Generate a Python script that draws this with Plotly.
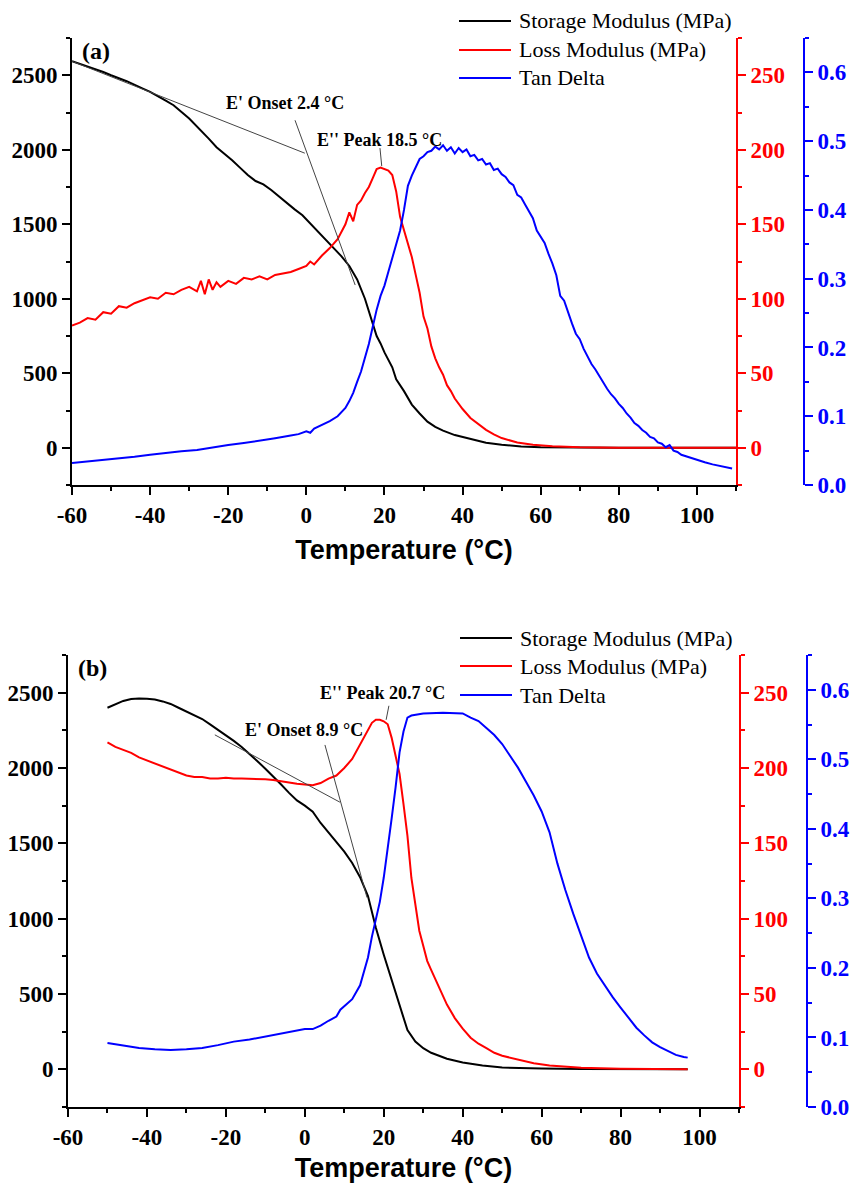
import plotly.graph_objects as go

# ---------------- Panel (a) data ----------------
a_storage_T = [-60, -56, -52, -50, -46, -42, -40, -36, -34, -30, -27, -25, -23, -21, -19, -17, -15, -13, -11, -9,
               -7, -5, -3, -1, 1, 3, 5, 7, 9, 11, 13, 15, 16, 17, 18, 19, 20, 22, 23, 25, 27, 29, 31, 33, 35, 38,
               42, 46, 50, 55, 60, 70, 80, 110]
a_storage_V = [2594, 2560, 2522, 2500, 2460, 2412, 2388, 2330, 2299, 2210, 2131, 2075, 2017, 1975, 1930, 1880, 1830,
               1790, 1768, 1730, 1685, 1640, 1600, 1560, 1505, 1455, 1400, 1345, 1285, 1220, 1130, 1000, 920, 840,
               750, 700, 640, 540, 460, 380, 290, 230, 175, 140, 115, 85, 58, 34, 20, 8, 4, 1, 0, 0]

a_loss_T = [-60, -58, -56, -54, -52, -50, -48, -46, -44, -42, -40, -38, -36, -34, -32, -30, -28, -27, -26, -25, -24,
            -23, -22, -20, -18, -16, -14, -12, -10, -8, -6, -4, -2, 0, 1, 2, 4, 6, 8, 10, 11, 12, 13, 14, 15, 16, 17,
            18, 19, 20, 21, 22, 23, 24, 25, 26, 27, 28, 29, 30, 31, 32, 33, 34, 35, 36, 37, 38, 40, 42, 44, 46, 48,
            50, 54, 58, 63, 70, 80, 110]
a_loss_V = [82, 84, 87, 86, 91, 90, 95, 94, 97, 99, 101, 100, 104, 103, 106, 108, 105, 112, 103, 113, 106, 111, 108,
            112, 110, 114, 113, 115, 113, 116, 117, 118, 120, 122, 125, 123, 129, 134, 140, 150, 158, 152, 163, 166,
            171, 175, 181, 187, 188, 187, 186, 183, 172, 155, 146, 136, 128, 116, 104, 88, 80, 68, 60, 54, 49, 42, 38,
            33, 26, 20, 16, 12, 9, 6.5, 3.5, 2, 1, 0.3, 0, 0]

a_tan_T = [-60, -56, -52, -48, -44, -40, -36, -32, -28, -24, -20, -16, -12, -8, -4, -2, 0, 1, 2, 4, 6, 8, 10, 11, 12,
           13, 14, 15, 16, 17, 18, 19, 20, 21, 22, 23, 24, 25, 26, 27, 28, 29, 30, 31, 32, 33, 34, 35, 36, 37, 38, 39,
           40, 41, 42, 43, 44, 45, 46, 47, 48, 49, 50, 51, 52, 53, 54, 55, 56, 57, 58, 59, 60, 61, 62, 63, 64, 65, 66,
           67, 68, 69, 70, 71, 72, 73, 74, 75, 76, 77, 78, 79, 80, 81, 82, 83, 84, 85, 86, 87, 88, 89, 90, 91, 92, 93,
           94, 95, 96, 97, 98, 100, 102, 104, 106, 108, 109]
a_tan_V = [0.032, 0.034, 0.037, 0.039, 0.041, 0.044, 0.047, 0.049, 0.051, 0.055, 0.058, 0.061, 0.064, 0.068, 0.072,
           0.074, 0.078, 0.076, 0.082, 0.087, 0.093, 0.100, 0.112, 0.122, 0.134, 0.150, 0.165, 0.185, 0.205, 0.230,
           0.255, 0.275, 0.290, 0.310, 0.330, 0.350, 0.370, 0.400, 0.435, 0.450, 0.462, 0.474, 0.478, 0.484, 0.486,
           0.492, 0.488, 0.494, 0.486, 0.491, 0.482, 0.490, 0.484, 0.488, 0.478, 0.480, 0.472, 0.474, 0.466, 0.468,
           0.458, 0.460, 0.452, 0.448, 0.440, 0.436, 0.422, 0.418, 0.408, 0.398, 0.388, 0.370, 0.360, 0.352, 0.336,
           0.322, 0.305, 0.275, 0.268, 0.250, 0.235, 0.220, 0.212, 0.198, 0.186, 0.176, 0.168, 0.158, 0.150, 0.140,
           0.132, 0.126, 0.118, 0.112, 0.104, 0.098, 0.090, 0.086, 0.080, 0.076, 0.070, 0.068, 0.062, 0.060, 0.055,
           0.058, 0.050, 0.048, 0.044, 0.042, 0.040, 0.036, 0.033, 0.030, 0.028, 0.025, 0.024]

# ---------------- Panel (b) data ----------------
b_storage_T = [-50, -48, -46, -44, -42, -40, -38, -36, -34, -32, -30, -28, -26, -24, -22, -20, -18, -16, -14, -12,
               -10, -8, -6, -4, -2, 0, 2, 4, 6, 8, 10, 12, 14, 16, 18, 20, 22, 24, 26, 28, 30, 32, 34, 36, 40, 45,
               50, 55, 60, 70, 80, 90, 97]
b_storage_V = [2400, 2425, 2445, 2458, 2462, 2460, 2455, 2442, 2425, 2400, 2375, 2350, 2325, 2290, 2255, 2220, 2180,
               2140, 2095, 2045, 1995, 1945, 1890, 1835, 1785, 1750, 1710, 1635, 1570, 1510, 1445, 1370, 1275, 1150,
               940, 760, 590, 420, 260, 185, 140, 110, 88, 70, 45, 25, 12, 7, 5, 3, 2, 1, 0]

b_loss_T = [-50, -48, -46, -44, -42, -40, -38, -36, -34, -32, -30, -28, -26, -24, -22, -20, -18, -16, -14, -12, -10,
            -8, -6, -4, -2, 0, 2, 4, 6, 8, 10, 12, 14, 16, 17, 18, 19, 20, 21, 22, 23, 24, 25, 26, 27, 28, 29, 30, 31,
            32, 34, 36, 38, 40, 42, 44, 46, 48, 50, 54, 58, 62, 66, 70, 80, 90, 97]
b_loss_V = [217, 214, 212, 210, 207, 205, 203, 201, 199, 197, 195, 194, 194, 193, 193, 193.5, 193, 193, 193, 192.5,
            192.5, 192, 191, 190, 189.5, 189, 188.5, 190, 193, 195, 200, 206, 216, 226, 230, 232, 232, 231, 229, 220,
            208, 196, 176, 155, 127, 108, 92, 82, 72, 66, 54, 43, 34, 27, 21, 17, 14, 11, 9, 6.5, 4, 2.5, 1.5, 1,
            0.4, 0.2, 0.1]

b_tan_T = [-50, -46, -42, -38, -34, -30, -26, -22, -18, -14, -10, -6, -2, 0, 2, 4, 6, 8, 9, 10, 12, 14, 15, 16, 17,
           18, 19, 20, 21, 22, 23, 24, 25, 26, 27, 30, 35, 40, 42, 44, 46, 48, 50, 52, 54, 56, 58, 60, 62, 64, 66, 68,
           70, 72, 74, 76, 78, 80, 82, 84, 86, 88, 90, 92, 94, 96, 97]
b_tan_V = [0.092, 0.088, 0.085, 0.083, 0.082, 0.083, 0.085, 0.089, 0.094, 0.097, 0.101, 0.105, 0.110, 0.112, 0.112,
           0.117, 0.124, 0.130, 0.140, 0.145, 0.155, 0.175, 0.195, 0.215, 0.245, 0.270, 0.295, 0.330, 0.370, 0.415,
           0.460, 0.510, 0.540, 0.560, 0.563, 0.566, 0.567, 0.566, 0.560, 0.555, 0.545, 0.535, 0.522, 0.505, 0.488,
           0.468, 0.448, 0.425, 0.395, 0.350, 0.312, 0.278, 0.245, 0.215, 0.192, 0.174, 0.158, 0.143, 0.128, 0.114,
           0.103, 0.093, 0.086, 0.080, 0.075, 0.072, 0.071]

series_names = ["Storage Modulus (MPa)", "Loss Modulus (MPa)", "Tan Delta"]
series_colors = ["#000000", "#ff0000", "#0000ff"]

x_ticks = [-60, -40, -20, 0, 20, 40, 60, 80, 100]
x_ticktext = ["-60", "-40", "-20", "0", "20", "40", "60", "80", "100"]

SERIF = "Liberation Serif"
SANS = "Liberation Sans"
W, H = 854, 1183

fig = go.Figure()

panels = [
    ("x", ["y", "y2", "y3"], [(a_storage_T, a_storage_V), (a_loss_T, a_loss_V), (a_tan_T, a_tan_V)]),
    ("x2", ["y4", "y5", "y6"], [(b_storage_T, b_storage_V), (b_loss_T, b_loss_V), (b_tan_T, b_tan_V)]),
]
for xa, yas, data in panels:
    for i, (tt, vv) in enumerate(data):
        fig.add_trace(go.Scatter(x=tt, y=vv, mode="lines", name=series_names[i],
                                 line=dict(color=series_colors[i], width=2), xaxis=xa, yaxis=yas[i],
                                 showlegend=False))


def tickfont(c):
    return dict(family=SERIF, size=23, color=c, weight="bold")


def xax(domain, anchor):
    return dict(domain=domain, anchor=anchor, range=[-60, 110], tickvals=x_ticks, ticktext=x_ticktext,
                automargin=False,
                showline=True, linewidth=2, linecolor="black", ticks="outside", ticklen=8, tickwidth=2,
                tickcolor="black", minor=dict(dtick=10, ticks="outside", ticklen=4, tickwidth=2, tickcolor="black"),
                tickfont=tickfont("black"), showgrid=False, zeroline=False,
                title=dict(text="Temperature (°C)", font=dict(family=SANS, size=27, color="black", weight="bold"),
                           standoff=14))


def yleft(domain, anchor):
    return dict(domain=domain, anchor=anchor, range=[-250, 2750], tickvals=[0, 500, 1000, 1500, 2000, 2500],
                automargin=False,
                showline=True, linewidth=2, linecolor="black", ticks="outside", ticklen=8, tickwidth=2,
                tickcolor="black", minor=dict(dtick=250, ticks="outside", ticklen=4, tickwidth=2, tickcolor="black"),
                tickfont=tickfont("black"), showgrid=False, zeroline=False)


def yred(over, anchor):
    return dict(overlaying=over, anchor=anchor, side="right", range=[-25, 275], tickvals=[0, 50, 100, 150, 200, 250],
                automargin=False,
                showline=True, linewidth=2, linecolor="red", ticks="outside", ticklen=8, tickwidth=2,
                tickcolor="red", minor=dict(dtick=25, ticks="outside", ticklen=4, tickwidth=2, tickcolor="red"),
                tickfont=tickfont("red"), showgrid=False, zeroline=False)


def yblue(over, pos):
    return dict(overlaying=over, anchor="free", position=pos, side="right", range=[0, 0.65], automargin=False,
                tickvals=[0.0, 0.1, 0.2, 0.3, 0.4, 0.5, 0.6], tickformat=".1f",
                showline=True, linewidth=2, linecolor="blue", ticks="outside", ticklen=8, tickwidth=2,
                tickcolor="blue", minor=dict(dtick=0.05, ticks="outside", ticklen=4, tickwidth=2, tickcolor="blue"),
                tickfont=tickfont("blue"), showgrid=False, zeroline=False)


fig.update_layout(
    width=W, height=H, margin=dict(l=0, r=0, t=0, b=0, autoexpand=False),
    paper_bgcolor="white", plot_bgcolor="white",
    xaxis=xax([72 / W, 736 / W], "y"),
    yaxis=yleft([1 - 485 / H, 1 - 38 / H], "x"),
    yaxis2=yred("y", "x"),
    yaxis3=yblue("y", 804 / W),
    xaxis2=xax([68 / W, 739 / W], "y4"),
    yaxis4=yleft([1 - 1107 / H, 1 - 655 / H], "x2"),
    yaxis5=yred("y4", "x2"),
    yaxis6=yblue("y4", 807 / W),
    showlegend=False,
)

ann_font = dict(family=SERIF, size=18, color="black", weight="bold")
lab_font = dict(family=SERIF, size=24, color="black", weight="bold")
leg_font = dict(family=SERIF, size=22, color="black")

annotations = [
    dict(text="(a)", xref="x domain", yref="y domain", x=0.012, y=1.005, xanchor="left", yanchor="top",
         showarrow=False, font=lab_font),
    dict(text="(b)", xref="x2 domain", yref="y4 domain", x=0.012, y=1.005, xanchor="left", yanchor="top",
         showarrow=False, font=lab_font),
    dict(text="E' Onset 2.4 °C", xref="x", yref="y", x=-5.5, y=2312, showarrow=False, font=ann_font),
    dict(text="E'' Peak 18.5 °C", xref="x", yref="y", x=18.6, y=2064, showarrow=False, font=ann_font),
    dict(text="E' Onset 8.9 °C", xref="x2", yref="y4", x=-0.2, y=2253, showarrow=False, font=ann_font),
    dict(text="E'' Peak 20.7 °C", xref="x2", yref="y4", x=19.8, y=2500, showarrow=False, font=ann_font),
]

tan_line = dict(color="#444444", width=1)
shapes = [
    dict(type="line", xref="x", yref="y", x0=-60, y0=2594, x1=-0.4, y1=1977, line=tan_line),
    dict(type="line", xref="x", yref="y", x0=-2.9, y0=2198, x1=12.5, y1=1092, line=tan_line),
    dict(type="line", xref="x", yref="y", x0=18.85, y0=2011, x1=19.3, y1=1890, line=tan_line),
    dict(type="line", xref="x2", yref="y4", x0=-22.8, y0=2220, x1=8.9, y1=1773, line=tan_line),
    dict(type="line", xref="x2", yref="y4", x0=5.1, y0=2153, x1=15.75, y1=1140, line=tan_line),
    dict(type="line", xref="x2", yref="y4", x0=21.3, y0=2413, x1=20.6, y1=2320, line=tan_line),
]

# manual legends (one per panel)
legend_rows = [(459, 511, 517, [21, 50, 78]), (460, 512, 518, [638, 666, 695])]
for lx0, lx1, tx, rows in legend_rows:
    for i, ry in enumerate(rows):
        shapes.append(dict(type="line", xref="paper", yref="paper", x0=lx0 / W, x1=lx1 / W,
                           y0=1 - ry / H, y1=1 - ry / H, line=dict(color=series_colors[i], width=2)))
        annotations.append(dict(text=series_names[i], xref="paper", yref="paper", x=tx / W, y=1 - ry / H,
                                xanchor="left", yanchor="middle", showarrow=False, font=leg_font))

fig.update_layout(annotations=annotations, shapes=shapes)

fig.write_html("out.html", config={"displayModeBar": False},
               post_script="document.body.style.margin='0';document.body.style.overflow='hidden';")
